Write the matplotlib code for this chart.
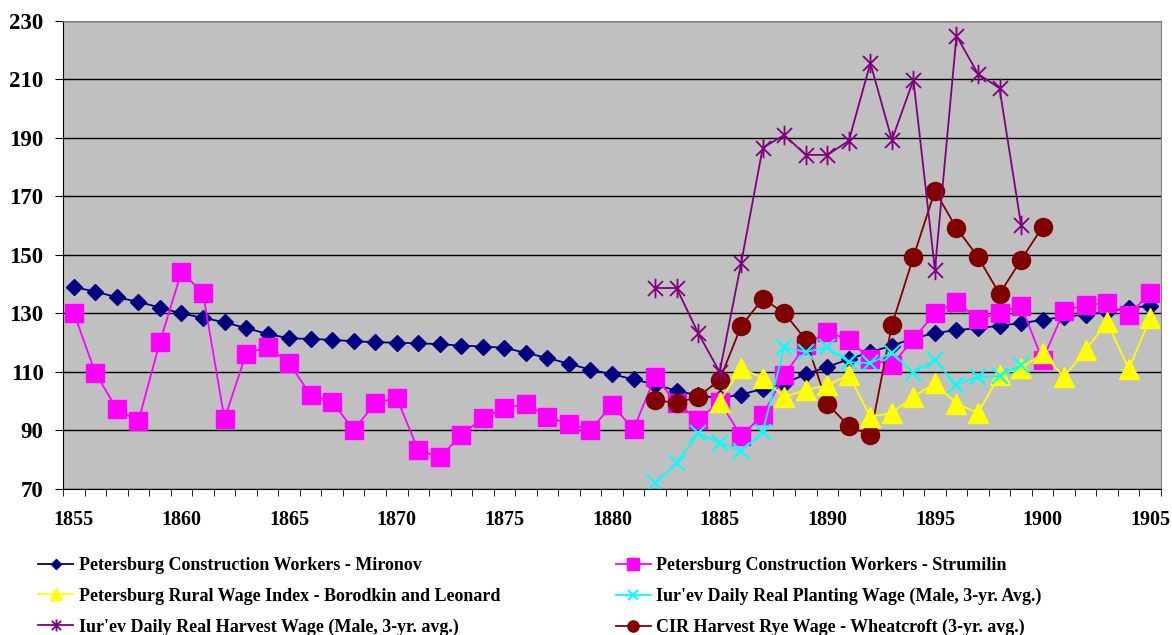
import numpy as np
import matplotlib.pyplot as plt
from matplotlib.path import Path

plt.rcParams['font.family'] = ['Liberation Serif', 'DejaVu Serif']
plt.rcParams['font.weight'] = 'bold'

# data
years_all = list(range(1855, 1906))
mironov = [139, 137.5, 135.5, 134, 132, 130, 128.5, 127, 125, 123,
           121.5, 121.3, 121, 120.5, 120.2, 120, 119.8, 119.5, 119, 118.7,
           118.3, 116.5, 114.8, 112.8, 110.8, 109.2, 107.5, 105.7, 103.6, 102,
           101, 102.3, 104.2, 106, 109.3, 111.7, 114.4, 116.8, 119, 121.5,
           123.3, 124.3, 125, 125.8, 126.7, 127.8, 128.9, 129.6, 130.5, 132, 132.5]
strumilin = [130.2, 109.7, 97.3, 93.2, 120.3, 144.2, 137, 93.9, 116.2, 118.6,
             113.1, 102.1, 99.8, 90.2, 99.4, 101.1, 83.3, 80.9, 88.4, 94.3,
             97.6, 99.1, 94.7, 92.2, 90.2, 98.7, 90.5, 108.3, 99.4, 93.6,
             99.8, 88.2, 95.3, 109, 119.2, 123.7, 121, 114.4, 112.4, 121.2,
             130.2, 134, 128.1, 130.2, 132.6, 114.1, 131, 132.9, 133.5, 129.5, 137]

years_borodkin = list(range(1885, 1906))
borodkin = [99.9, 111.3, 107.9, 101.5, 103.8, 105.5, 109, 94.7, 96, 101.5,
            106.2, 99.1, 96, 109, 111.3, 116.4, 108.3, 117.5, 127.1, 111, 128.3]

years_iurev = list(range(1882, 1900))
planting = [72, 78.9, 89.1, 85.8, 83, 89.5, 118.5, 116.8, 118.5, 113.4,
            113, 116.6, 109.7, 114.1, 105.5, 108.3, 108.6, 112.4]
harvest = [138.7, 138.7, 123.3, 110, 147.3, 186.6, 191, 184.2, 184.2, 189,
           215.6, 189.3, 209.8, 144.9, 224.9, 211.9, 207, 160.3]

years_wheatcroft = list(range(1882, 1901))
wheatcroft = [100.4, 99.4, 101.5, 107.3, 125.7, 135, 130.2, 121, 99.1, 91.5,
              88.4, 126, 149.3, 171.9, 159.2, 149.3, 136.7, 148.3, 159.6]

labels = ['Petersburg Construction Workers - Mironov',
          'Petersburg Construction Workers - Strumilin',
          'Petersburg Rural Wage Index - Borodkin and Leonard',
          "Iur'ev Daily Real Planting Wage (Male, 3-yr. Avg.)",
          "Iur'ev Daily Real Harvest Wage (Male, 3-yr. avg.)",
          'CIR Harvest Rye Wage - Wheatcroft (3-yr. avg.)']

# excel-style star: x with a vertical bar
star = Path([(-1, -1), (1, 1), (-1, 1), (1, -1), (0, -1.3), (0, 1.3)],
            [Path.MOVETO, Path.LINETO, Path.MOVETO, Path.LINETO, Path.MOVETO, Path.LINETO])

fig = plt.figure(figsize=(11.72, 6.35), dpi=100)
ax = fig.add_axes([0.0538, 0.2299, 0.9368, 0.7372])
ax.set_facecolor('#C0C0C0')

h1, = ax.plot(years_all, mironov, color='#000080', marker='D', ms=8, lw=1.3, label=labels[0])
h2, = ax.plot(years_all, strumilin, color='#FF00FF', marker='s', ms=13, lw=1.3, label=labels[1])
h6, = ax.plot(years_wheatcroft, wheatcroft, color='#800000', marker='o', ms=13, lw=1.3, label=labels[5])
h3, = ax.plot(years_borodkin, borodkin, color='#FFFF00', marker='^', ms=14, lw=1.3, label=labels[2])
h4, = ax.plot(years_iurev, planting, color='#00FFFF', marker='x', ms=12, mew=1.5, lw=1.3, label=labels[3])
h5, = ax.plot(years_iurev, harvest, color='#800080', marker=star, ms=14, mew=1.3, lw=1.3, label=labels[4])

ax.set_xlim(1854.5, 1905.5)
ax.set_ylim(70, 230)
ax.set_yticks(np.arange(70, 231, 20))
ax.set_xticks(np.arange(1855, 1906, 5))
ax.set_xticks(np.arange(1854.5, 1906, 1), minor=True)
ax.tick_params(axis='x', which='major', length=0, pad=15, labelsize=14.5)
ax.tick_params(axis='x', which='minor', length=5, direction='out', color='black')
ax.tick_params(axis='y', length=6, direction='out', pad=8, labelsize=16.5)
for t in ax.get_xticklabels() + ax.get_yticklabels():
    t.set_fontweight('bold')

ax.grid(axis='y', color='black', lw=1)
ax.set_axisbelow(True)
ax.spines['top'].set_color('#808080')
ax.spines['right'].set_color('#808080')
ax.spines['left'].set_color('black')
ax.spines['bottom'].set_color('black')

handles = [h1, h3, h5, h2, h4, h6]
leg = fig.legend(handles=handles, labels=[h.get_label() for h in handles],
                 ncol=2, loc='upper left', bbox_to_anchor=(0.0324, 0.123),
                 frameon=False, borderpad=0, borderaxespad=0,
                 handlelength=1.95, handletextpad=0.3, columnspacing=6.4,
                 labelspacing=0.76, markerscale=0.62,
                 prop={'family': ['Liberation Serif'], 'weight': 'bold', 'size': 13.0})

fig.savefig('out.png', dpi=100)
